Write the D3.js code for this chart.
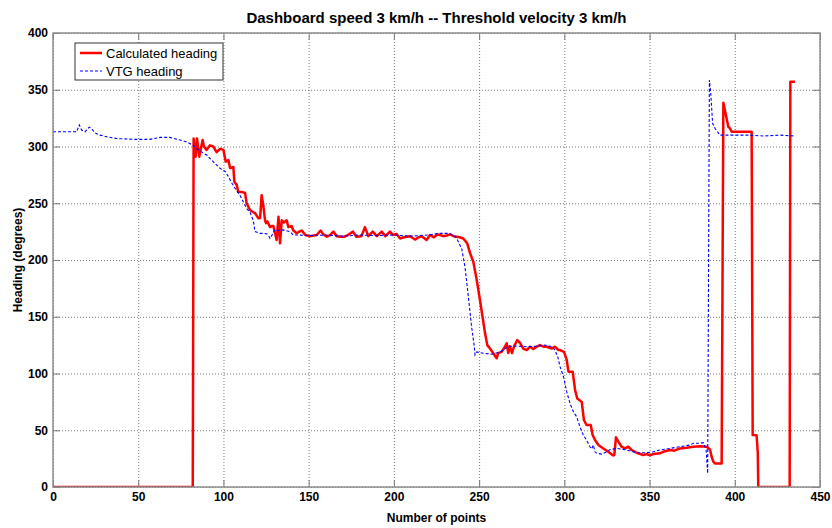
<!DOCTYPE html>
<html>
<head>
<meta charset="utf-8">
<script src="https://cdn.jsdelivr.net/npm/d3@7"></script>
<style>
  html, body { margin: 0; padding: 0; background: #fff; }
  svg { display: block; font-family: "Liberation Sans", Arial, Helvetica, sans-serif; }
  .grid line { stroke: #7a7a7a; stroke-width: 1; stroke-dasharray: 1,2; }
  .grid path { display: none; }
  .ticks path { display: none; }
  .ticks line { stroke: #7a7a7a; stroke-width: 1; }
  .ticks text { font-size: 12px; font-weight: bold; fill: #000; }
</style>
</head>
<body>
<svg id="chart" width="832" height="528"></svg>
<script>
// Sample index (x) and heading in degrees (y) for each trace
const redX = [0, 82, 82.5, 83.7, 84.5, 85.8, 87.8, 88.5, 90.1, 92, 94, 96, 98, 100, 101.3, 102.9, 103.9, 105.8,
  106.4, 107.8, 108.7, 110.7, 112.7, 113.6, 115.6, 117.5, 118.5, 120.5, 121.5, 122.4, 123.4, 124.4, 125, 125.8,
  127.3, 128.5, 129.3, 130.3, 131.2, 132.3, 133.2, 134.2, 135.5, 137.1, 138.1, 140, 141, 143, 144.5, 146, 148,
  150.8, 154.7, 157, 158.6, 160.6, 162.5, 164.5, 166.5, 168.5, 171, 173, 176, 178, 181, 183, 185, 187.6, 190,
  192.8, 195, 197.7, 199.5, 201.5, 203.6, 206, 209.5, 212.4, 214.5, 216.3, 219.2, 221.2, 223.5, 225.5, 227, 229,
  231, 233, 235, 236.9, 238.5, 240.7, 243, 244.7, 246.6, 248.6, 250.5, 252, 253.5, 254.8, 256.4, 258.3, 260.3,
  261.2, 263.2, 264.5, 266.2, 267.1, 268, 269.3, 270.5, 272.4, 274, 275.9, 277.9, 280, 281.8, 283.8, 285.7, 287.7,
  289.7, 292.5, 294.5, 296.5, 297.5, 299.8, 301.4, 302.4, 304.9, 306.3, 307.6, 310.2, 311.5, 313, 315.5, 316.6,
  318, 320, 322.9, 325.8, 328.4, 329.3, 330.3, 331.7, 333.6, 335.6, 337.5, 339.5, 342.4, 346.3, 348.3, 350.2,
  352.2, 356, 358, 362, 364.5, 367.9, 371.8, 375.7, 379.6, 383.5, 385.5, 386.4, 387.4, 388.4, 392.3, 393.3, 395.2,
  396.2, 397.2, 398.2, 409.9, 410.5, 412.8, 413.5, 413.8, 432.2, 432.6, 435.3];
const redY = [0, 0, 307, 291, 307, 291, 305.7, 300, 297, 301, 300, 295, 298, 297, 286.7, 288, 281, 282,
  269, 266, 260, 260, 259, 250, 244, 242, 241.4, 236.7, 237, 257, 248, 235, 232.5, 234,
  229, 230, 230, 223.5, 217.6, 238, 214.7, 235, 233, 235, 229, 230, 226, 223.5, 225, 226, 222,
  221, 222, 226, 222.6, 220.5, 222, 225, 221, 220.5, 220.5, 222, 225, 220.5, 221, 229, 221, 225, 221,
  225, 221, 225, 222, 223, 219, 220, 221, 218, 220, 221, 217.6, 222, 220, 222.5, 222, 221,
  221.5, 222.6, 221, 220.5, 220, 219, 214.7, 206, 198.5, 182.4, 164.8, 150, 135.4, 125, 122, 117.8, 113.4,
  118, 119, 122, 126.6, 118, 124, 118, 124, 129.5, 127, 122, 120.7, 123.6, 121.5, 123.6, 125, 123.6,
  123.6, 122, 123.6, 120.7, 120.7, 119, 112, 101.6, 101.6, 85.5, 78, 75, 59, 54.6, 54.6, 45.8,
  41.4, 37, 34, 31, 28, 28, 43.8, 40, 35.5, 34, 35.5, 32.6, 30.2, 28.2, 29, 28,
  29, 29.7, 31, 32.6, 32, 34, 34.5, 35.5, 36, 35.5, 33, 26.7, 22.3, 20.8, 20.8, 338.6, 324.8,
  317.4, 316, 313, 313, 45.8, 45.5, 30, 0, 0, 357, 357];

const blueX = [0, 13.9, 15.4, 16.8, 18.8, 21.3, 22.5, 24.6, 27.6, 31.5, 37.4, 47.1, 56.9, 62.8, 68.6, 74.5, 78.4,
  82.3, 86.2, 90.2, 94, 98, 101, 102.9, 104.8, 107.8, 109.7, 111.7, 113.6, 115.6, 117.5, 118.5, 121.4, 123.4,
  125.4, 126.3, 127.3, 128.5, 130.3, 132.2, 135.1, 139, 141, 143.9, 150, 160, 170, 180, 190, 200, 210, 220, 227,
  232, 235, 236.9, 238.8, 239.8, 241.7, 243.7, 245.6, 247.2, 247.6, 248.6, 252.5, 257.4, 262.3, 267.1, 272,
  277.9, 283.8, 288.7, 292.6, 294.5, 296.1, 297.5, 299.5, 301.4, 303.3, 305.3, 307.2, 309.2, 311.1, 313, 315,
  316, 317, 318, 319, 321.9, 324.9, 326.8, 330.7, 336.6, 342.4, 348.3, 352.2, 356.1, 362, 367.9, 373.7, 375.7,
  379.6, 381.6, 383.2, 384.1, 385.1, 385.9, 387, 388.4, 391.3, 400, 407, 416.7, 426.5, 435.3];
const blueY = [313, 313, 319, 314.5, 313, 317, 316, 312, 310, 308.6, 307, 306.3, 306.3, 308, 308, 305.7, 304,
  301, 296, 292.5, 286.6, 280.8, 278, 273.4, 268, 261, 257, 251, 245.5, 242, 235, 225, 223.5, 223.5,
  223, 222, 219, 222, 227, 226, 226.5, 225, 222, 222, 221.5, 222, 221, 222, 221.5, 222, 221, 222, 223.5,
  223.5, 222, 219, 213, 210, 194, 167.6, 141, 123.6, 116.3, 119, 117.8, 117, 119, 123.6, 124.2,
  123.6, 124, 125, 123.6, 120.7, 114.8, 106, 97.2, 84, 73.7, 66.4, 62, 53, 45.8, 41.4, 35.5,
  33.5, 37, 31, 29.7, 29, 31, 33, 34, 32.6, 30.2, 30.2, 31, 32.6, 34, 35.5, 37, 38.5,
  38.5, 39, 32.6, 12, 358.6, 346.8, 320.4, 316, 310, 310, 310, 309.3, 310, 309.3];

const xTicks = [0, 50, 100, 150, 200, 250, 300, 350, 400, 450];
const yTicks = [0, 50, 100, 150, 200, 250, 300, 350, 400];
const seriesNames = ["Calculated heading", "VTG heading"];
const titleText = "Dashboard speed 3 km/h -- Threshold velocity 3 km/h";
const xLabelText = "Number of points";
const yLabelText = "Heading (degrees)";

const margin = { top: 33, right: 12, bottom: 41, left: 53 };
const svg = d3.select("#chart");
const W = 832, H = 528;
const w = W - margin.left - margin.right;
const h = H - margin.top - margin.bottom;

const x = d3.scaleLinear().domain([0, 450]).range([0, w]);
const y = d3.scaleLinear().domain([0, 400]).range([h, 0]);

const g = svg.append("g").attr("transform", `translate(${margin.left},${margin.top})`);

g.append("rect").attr("width", w).attr("height", h).attr("fill", "#fff");

// dotted grid
g.append("g").attr("class", "grid")
  .attr("transform", `translate(0,${h})`)
  .call(d3.axisBottom(x).tickValues(xTicks).tickSize(-h).tickFormat(""));
g.append("g").attr("class", "grid")
  .call(d3.axisLeft(y).tickValues(yTicks).tickSize(-w).tickFormat(""));

// inward ticks on all four sides
g.append("g").attr("class", "ticks")
  .attr("transform", `translate(0,${h})`)
  .call(d3.axisBottom(x).tickValues(xTicks).tickSize(-7).tickPadding(5));
g.append("g").attr("class", "ticks")
  .call(d3.axisLeft(y).tickValues(yTicks).tickSize(-7).tickPadding(5));
g.append("g").attr("class", "ticks")
  .call(d3.axisTop(x).tickValues(xTicks).tickSize(-7).tickFormat(""));
g.append("g").attr("class", "ticks")
  .attr("transform", `translate(${w},0)`)
  .call(d3.axisRight(y).tickValues(yTicks).tickSize(-7).tickFormat(""));

// data traces
svg.append("clipPath").attr("id", "plotclip")
  .append("rect").attr("width", w).attr("height", h);
const line = d3.line().x(d => x(d[0])).y(d => y(d[1]));
const plot = g.append("g").attr("clip-path", "url(#plotclip)");

plot.append("path")
  .datum(redX.map((v, i) => [v, redY[i]]))
  .attr("d", line)
  .attr("fill", "none")
  .attr("stroke", "#ff0000")
  .attr("stroke-width", 2.5)
  .attr("stroke-linejoin", "round");

plot.append("path")
  .datum(blueX.map((v, i) => [v, blueY[i]]))
  .attr("d", line)
  .attr("fill", "none")
  .attr("stroke", "#0000ff")
  .attr("stroke-width", 1.1)
  .attr("stroke-dasharray", "3,2");

// frame
g.append("rect").attr("width", w).attr("height", h)
  .attr("fill", "none").attr("stroke", "#8c8c8c").attr("stroke-width", 1.5);

// legend
const lg = g.append("g").attr("transform", "translate(22,10)");
lg.append("rect").attr("width", 148).attr("height", 37)
  .attr("fill", "#fff").attr("stroke", "#333").attr("stroke-width", 1);
const legendStyles = [
  { color: "#ff0000", width: 2.5, dash: null },
  { color: "#0000ff", width: 1.1, dash: "3,2" }
];
seriesNames.forEach((name, i) => {
  const yy = 10 + i * 18;
  lg.append("line").attr("x1", 5).attr("x2", 27).attr("y1", yy).attr("y2", yy)
    .attr("stroke", legendStyles[i].color).attr("stroke-width", legendStyles[i].width)
    .attr("stroke-dasharray", legendStyles[i].dash);
  lg.append("text").attr("x", 31).attr("y", yy).attr("dy", "0.35em")
    .attr("font-size", 13).attr("fill", "#000").text(name);
});

// titles
svg.append("text").attr("x", margin.left + w / 2).attr("y", 23)
  .attr("text-anchor", "middle").attr("font-size", 15).attr("font-weight", "bold")
  .text(titleText);
svg.append("text").attr("x", margin.left + w / 2).attr("y", 522)
  .attr("text-anchor", "middle").attr("font-size", 12).attr("font-weight", "bold")
  .text(xLabelText);
svg.append("text")
  .attr("transform", `translate(22,${margin.top + h / 2}) rotate(-90)`)
  .attr("text-anchor", "middle").attr("font-size", 12).attr("font-weight", "bold")
  .text(yLabelText);
</script>
</body>
</html>
